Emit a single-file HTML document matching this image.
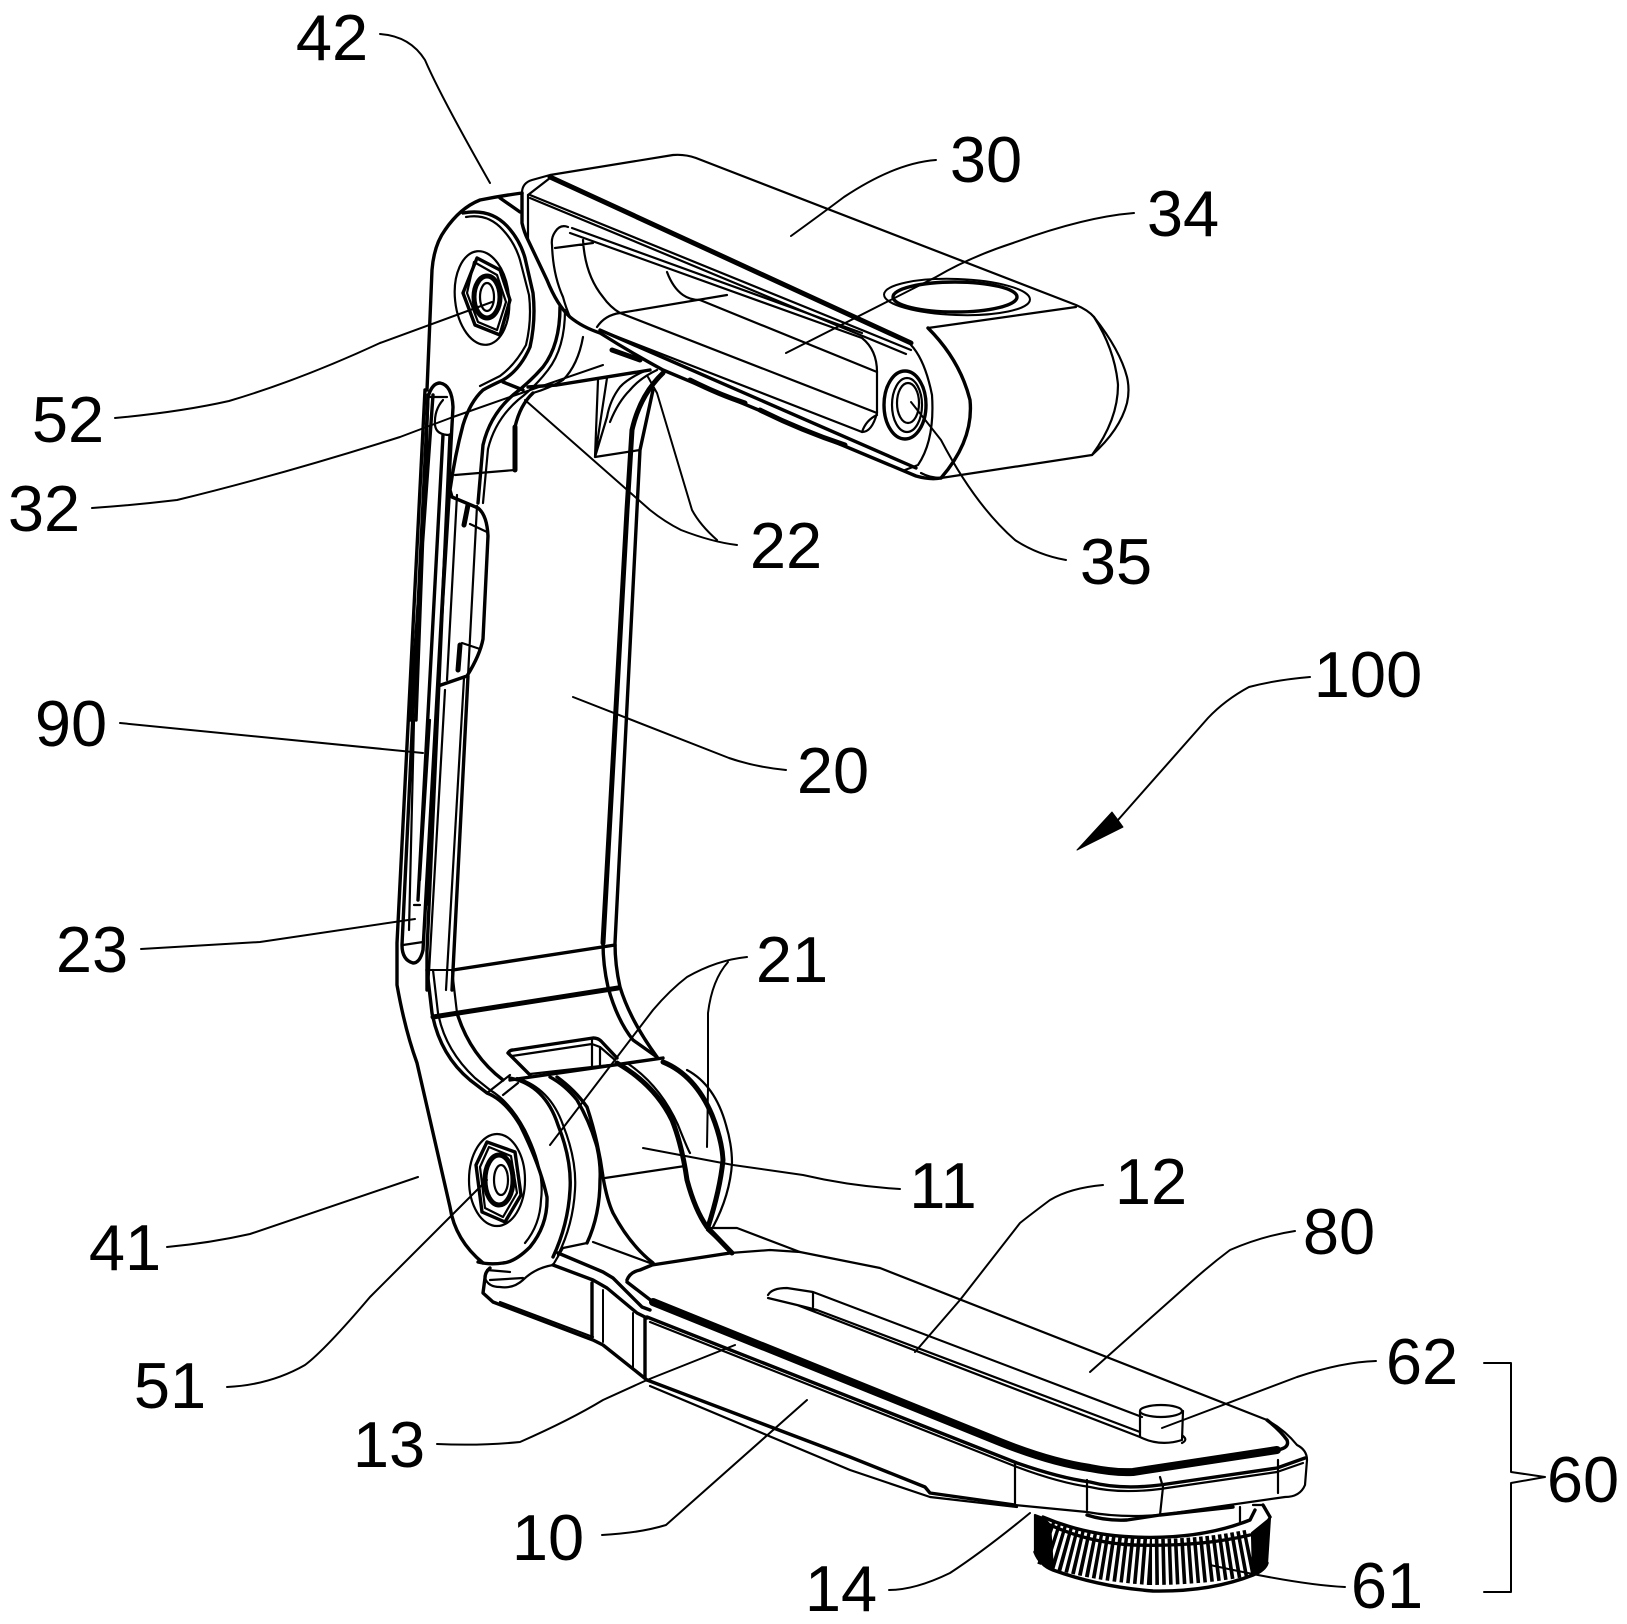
<!DOCTYPE html>
<html><head><meta charset="utf-8"><style>
html,body{margin:0;padding:0;background:#fff}
svg{display:block}
path,ellipse{fill:none;stroke:#000;stroke-width:2.2;stroke-linejoin:round;stroke-linecap:round}
.t{stroke-width:3.4}.h{stroke-width:5}.x{stroke-width:8}.l{stroke-width:2}.f{fill:#000}
text{font-family:"Liberation Sans",Arial,sans-serif;font-size:65px;text-anchor:middle;fill:#000}
</style></head><body>
<svg width="1627" height="1624" viewBox="0 0 1627 1624" xmlns="http://www.w3.org/2000/svg">
<rect width="1627" height="1624" fill="#fff"/>
<!-- top bar 30 -->
<path d="M522 193Q522 183 532 180L550 175L673 155Q685 154 696 158L1076 305Q1088 310 1094 317Q1120 350 1127 377Q1130 390 1127 403Q1120 430 1092 455L941 478Q930 478 921 473"/>
<path d="M528 195L550 178"/>
<path class="h" d="M550 177L911 343"/>
<path class="t" d="M928 328Q960 360 970 400Q974 440 941 478"/>
<path d="M530 195L911 350M530 198L906 354"/>
<path d="M928 328L1076 307M1094 317Q1115 350 1118 385Q1118 420 1092 455M911 345Q925 360 932 395Q935 440 918 465L905 470"/>
<path class="t" d="M522 193L522 223Q524 232 528 240L547 280Q557 305 570 317Q582 327 600 333Q630 352 663 370L916 476Q930 480 941 478"/>
<path d="M528 195L528 240"/>
<path class="t" d="M600 330L916 468"/>
<path class="h" d="M612 350L640 360M690 380Q720 395 745 403M760 410Q800 430 845 445"/>
<path d="M568 227Q560 224 555 232Q551 238 552 245Q553 275 563 297Q566 308 570 317M570 233L862 338Q877 350 877 372L877 413Q872 432 862 432L600 330M572 228L862 333"/>
<path d="M555 248L593 243M583 240Q585 275 603 297Q610 307 620 313L877 413M667 272Q673 288 683 295Q690 300 700 300L877 372M597 327Q605 315 620 313L727 295M862 432Q866 420 877 415"/>
<ellipse cx="957" cy="297" rx="73" ry="18" class="l" transform="rotate(2 957 297)"/>
<ellipse cx="955" cy="297" rx="62" ry="15" class="t"/>
<!-- right bolt -->
<ellipse cx="905" cy="405" rx="21" ry="34" class="t"/>
<ellipse cx="907" cy="405" rx="15" ry="27"/>
<ellipse cx="908" cy="403" rx="11" ry="20"/>
<!-- top-left bolt -->
<ellipse cx="482" cy="298" rx="27" ry="47" transform="rotate(-6 482 298)"/>
<path class="t" d="M477 258L500 270L510 300L500 335L475 325L463 293Z"/>
<path d="M474 262L497 275L506 302L497 330L478 322L467 293Z"/>
<ellipse cx="487" cy="297" rx="13" ry="21" class="h"/>
<ellipse cx="487" cy="297" rx="7" ry="14"/>
<!-- left link -->
<path class="t" d="M427 390L432 270Q434 245 445 230Q460 208 480 200Q500 196 522 193M500 198L520 212"/>
<path class="t" d="M463 213Q490 208 507 226Q520 240 525 258L533 293Q536 320 530 347Q520 370 503 380Q490 386 483 390Q470 402 463 425Q455 455 450 490L452 497L478 508Q487 515 488 536L483 639Q480 655 467 676L438 686"/>
<path d="M466 217Q488 213 503 230Q515 243 520 260L529 295Q532 320 526 345Q515 365 500 376L480 386"/>
<path class="t" d="M560 307Q560 345 543 367Q530 382 513 395Q490 415 483 445L478 503"/>
<path d="M565 310Q565 348 548 370Q535 387 518 400Q495 420 488 449L483 503"/>
<path class="t" d="M425 390L397 943L397 985Q405 1030 417 1063L450 1207Q455 1240 483 1263"/>
<!-- slot in link -->
<path class="t" d="M428 397Q432 383 440 383Q452 385 453 407L423 950Q420 963 413 963Q402 960 402 945Z"/>
<path d="M430 397L447 397M443 400Q434 410 435 425Q436 435 450 435"/>
<path class="t" d="M410 720L433 395M416 720L428 395"/>
<path d="M409 930L414 720M420 880L430 720M414 905L420 905M403 945L423 942"/>
<path class="t" d="M450 435L427 951L427 990"/>
<path class="t" d="M443 435L418 900"/>
<path d="M450 492L438 686M457 495L447 680M470 524L487 532M462 643L480 649M477 506L468 676"/>
<path class="h" d="M468 505L464 525M460 645L458 670"/>
<path class="t" d="M438 690L427 904M468 676L452 990"/>
<path d="M445 690L428 990M464 678L446 990"/>
<path d="M455 475L515 470M583 337Q578 365 563 380Q550 388 533 393"/>
<path class="h" d="M515 470L515 427"/>
<path class="t" d="M515 427Q520 405 533 393"/>
<path class="t" d="M503 382L523 390M528 387L557 385L650 370"/>
<path d="M598 380L595 457M607 378L595 457M647 370Q628 378 620 387Q610 400 607 417L595 457M595 457L640 450M657 370Q640 378 630 390Q618 402 610 422"/>
<path class="h" d="M663 373Q640 395 632 430L627 510L603 943"/>
<path class="t" d="M603 943Q603 965 608 987Q617 1020 633 1040L657 1057"/>
<path class="t" d="M653 390L640 450L615 943Q615 965 620 987Q630 1020 657 1057"/>
<!-- lower cross lines -->
<path class="l" d="M430 970L453 970"/>
<path class="t" d="M453 970L615 945"/>
<path class="h" d="M433 1017L618 988" />
<!-- lower part of link -->
<path class="t" d="M427 970L432 1013Q440 1055 470 1080L487 1093Q505 1100 520 1125Q540 1165 547 1197Q548 1225 530 1247Q515 1262 503 1263Q490 1265 478 1262"/>
<path d="M452 970L457 1013Q470 1055 503 1080M433 970L438 1013Q445 1050 475 1078L490 1090Q510 1102 525 1130Q545 1170 541 1200Q540 1225 525 1243"/>
<path class="t" d="M457 1013Q470 1055 503 1080"/>
<path d="M487 1093L510 1075M503 1095L518 1083"/>
<!-- window -->
<path class="t" d="M508 1053Q510 1050 513 1050L593 1038Q598 1038 601 1041L617 1058M508 1053L530 1075"/>
<path d="M512 1056L592 1044L600 1047L615 1060M592 1040L592 1067M600 1047L600 1065"/>
<path class="t" d="M510 1080L663 1058"/>
<path d="M530 1074L610 1065"/>
<!-- hub -->
<path class="t" d="M510 1078Q545 1085 558 1125Q572 1160 570 1190Q568 1225 553 1257"/>
<path d="M517 1078Q550 1088 563 1125Q577 1160 575 1190Q573 1225 558 1255"/>
<path class="t" d="M550 1077Q565 1085 577 1100Q590 1122 597 1147Q601 1165 600 1180Q600 1215 587 1243"/>
<path class="t" d="M557 1077Q575 1090 587 1107Q598 1140 603 1177Q607 1200 613 1213Q630 1245 653 1263"/>
<path d="M563 1248L587 1243M593 1242L650 1263M553 1265L563 1248"/>
<path d="M605 1178L685 1166"/>
<path class="h" d="M617 1063Q655 1085 672 1120Q682 1145 687 1180Q695 1210 707 1227L732 1253"/>
<path d="M627 1063Q660 1085 678 1125Q688 1150 690 1153"/>
<path class="h" d="M663 1062Q695 1075 712 1115Q722 1140 723 1160Q720 1190 708 1227"/>
<path d="M687 1070Q715 1085 726 1125Q732 1145 732 1163Q730 1195 713 1227"/>
<!-- lower bolt -->
<ellipse cx="497" cy="1180" rx="28" ry="46"/>
<path class="t" d="M487 1142L515 1152L521 1195L505 1222L482 1212L476 1165Z"/>
<path d="M489 1147L511 1156L517 1193L503 1217L485 1208L480 1167Z"/>
<ellipse cx="499" cy="1180" rx="14" ry="25" class="h"/>
<ellipse cx="501" cy="1180" rx="7" ry="15"/>
<!-- base -->
<path d="M707 1228L737 1228L800 1252L880 1268L1267 1420Q1285 1430 1297 1445Q1307 1450 1307 1460L1305 1485Q1300 1497 1285 1497L1160 1515Q1120 1518 1087 1512L1015 1505"/>
<path d="M707 1230L732 1253M730 1253L770 1250L800 1252"/>
<path class="t" d="M627 1280Q630 1272 640 1270L652 1265L730 1253M627 1282L653 1302"/>
<path class="x" d="M653 1302L1000 1442Q1050 1462 1090 1468Q1115 1473 1133 1472L1277 1450"/>
<path class="t" d="M1277 1450Q1290 1448 1287 1440Q1280 1430 1267 1420"/>
<path class="t" d="M647 1317L1017 1463Q1060 1478 1090 1482Q1120 1490 1160 1485L1277 1468L1305 1458"/>
<path d="M650 1322L1017 1467Q1060 1483 1090 1487Q1120 1494 1160 1489L1277 1472L1303 1463"/>
<path class="t" d="M558 1253L603 1272L613 1278L642 1307L650 1310"/>
<path class="t" d="M553 1265L593 1280L607 1288L637 1313L647 1318"/>
<path class="t" d="M490 1268Q485 1272 485 1278L483 1293L493 1302L593 1340L603 1345L647 1380"/>
<path d="M500 1302L593 1337M490 1280L523 1278M485 1278Q488 1287 500 1287Q513 1289 523 1280Q535 1268 553 1265M487 1270L510 1272"/>
<path class="t" d="M592 1283L592 1337M645 1318L645 1377"/>
<path class="l" d="M603 1290L603 1342M633 1313L633 1368"/>
<path class="t" d="M647 1380L850 1457L925 1487L930 1493L1015 1505"/>
<path d="M650 1386L850 1470L930 1497L1017 1507"/>
<path d="M1015 1463L1015 1503M1087 1480L1087 1510M1160 1477L1163 1487L1160 1515M1278 1460L1278 1493"/>
<path class="t" d="M1087 1515Q1105 1521 1127 1520L1160 1515L1233 1507"/>
<!-- slot 12 -->
<path d="M768 1295Q772 1288 787 1288L813 1292L1142 1417M768 1298L797 1305L1140 1437M797 1305L817 1310L1140 1432M813 1292L813 1307"/>
<!-- pin -->
<ellipse cx="1161" cy="1411" rx="21" ry="6"/>
<path d="M1140 1411L1140 1437Q1160 1447 1182 1440L1183 1411M1183 1436Q1188 1440 1182 1443"/>
<!-- knob -->
<path d="M1045 1542Q1090 1558 1150 1562Q1205 1562 1252 1552" style="stroke-width:46;stroke-dasharray:3.6 3;stroke-linecap:butt"/>
<path class="f" d="M1035 1515L1035 1552Q1042 1565 1053 1570L1050 1525Q1045 1518 1035 1515Z"/>
<path class="f" d="M1252 1533L1268 1520L1270 1517L1267 1563Q1262 1570 1253 1575Z"/>
<path class="t" d="M1035 1552Q1040 1565 1053 1570Q1100 1587 1153 1591Q1210 1592 1253 1575Q1265 1570 1267 1563"/>
<path class="t" d="M1043 1517Q1085 1535 1133 1537Q1200 1540 1250 1520L1255 1510M1263 1505L1270 1517"/>
<path d="M1240 1507L1240 1523M1253 1505L1263 1505"/>
<path class="t" d="M1050 1525Q1090 1543 1133 1545Q1200 1547 1250 1535"/>
<!-- leaders -->
<path class="l" d="M380 34Q410 36 425 60Q440 95 490 183"/>
<path class="l" d="M936 160Q895 163 844 197Q820 215 791 236"/>
<path class="l" d="M1134 213Q1084 217 1013 243Q970 257 936 277L786 353"/>
<path class="l" d="M115 418Q180 412 229 401Q300 380 380 343L492 302"/>
<path class="l" d="M92 508Q135 505 177 500Q280 475 400 437L453 417L510 397L603 365"/>
<path class="l" d="M737 545Q712 542 681 530Q665 522 650 510L525 400"/>
<path class="l" d="M717 540Q700 525 692 510Q680 470 657 393L648 377"/>
<path class="l" d="M1066 560Q1038 555 1015 540Q975 505 941 440L911 402"/>
<path class="l" d="M573 697L729 758Q755 767 786 770"/>
<path class="l" d="M120 723L423 753"/>
<path class="l" d="M141 949L260 942L415 919"/>
<path class="l" d="M747 957Q717 960 687 977Q670 990 653 1010L550 1145"/>
<path class="l" d="M728 962Q712 980 708 1013L708 1087L707 1147"/>
<path class="l" d="M643 1148L733 1165L803 1175Q850 1186 900 1189"/>
<path class="l" d="M1103 1185Q1070 1188 1050 1200Q1030 1215 1020 1223L960 1300L915 1352"/>
<path class="l" d="M1295 1231Q1262 1236 1230 1250Q1210 1265 1190 1283L1090 1372"/>
<path class="l" d="M1376 1361Q1342 1362 1297 1377L1162 1428"/>
<path class="l" d="M1345 1587Q1300 1585 1210 1565"/>
<path class="l" d="M889 1590Q915 1590 950 1573Q985 1550 1030 1513"/>
<path class="l" d="M602 1535Q640 1533 666 1525L807 1400"/>
<path class="l" d="M437 1444Q480 1446 520 1442Q570 1420 603 1400L647 1380L735 1345"/>
<path class="l" d="M227 1387Q270 1385 305 1365Q325 1350 370 1297L487 1180"/>
<path class="l" d="M167 1247Q210 1243 250 1234L418 1177"/>
<path class="l" d="M1310 677Q1275 680 1249 687Q1225 700 1208 718L1118 820"/>
<path class="f" style="stroke-width:1" d="M1077 850L1112 812L1118 820L1123 827Z"/>
<path class="l" d="M1484 1363L1511 1363L1511 1472L1545 1477L1511 1483L1511 1592L1484 1592"/>
<!-- labels -->
<text x="332" y="60">42</text><text x="986" y="182">30</text><text x="1183" y="236">34</text>
<text x="68" y="442">52</text><text x="44" y="531">32</text><text x="786" y="568">22</text>
<text x="1116" y="584">35</text><text x="1368" y="697">100</text><text x="71" y="746">90</text>
<text x="833" y="793">20</text><text x="92" y="972">23</text><text x="792" y="982">21</text>
<text x="943" y="1208">11</text><text x="1151" y="1204">12</text><text x="1339" y="1254">80</text>
<text x="125" y="1270">41</text><text x="170" y="1408">51</text><text x="1422" y="1384">62</text>
<text x="1583" y="1502">60</text><text x="389" y="1467">13</text><text x="548" y="1560">10</text>
<text x="841" y="1611">14</text><text x="1387" y="1608">61</text>
</svg>
</body></html>
